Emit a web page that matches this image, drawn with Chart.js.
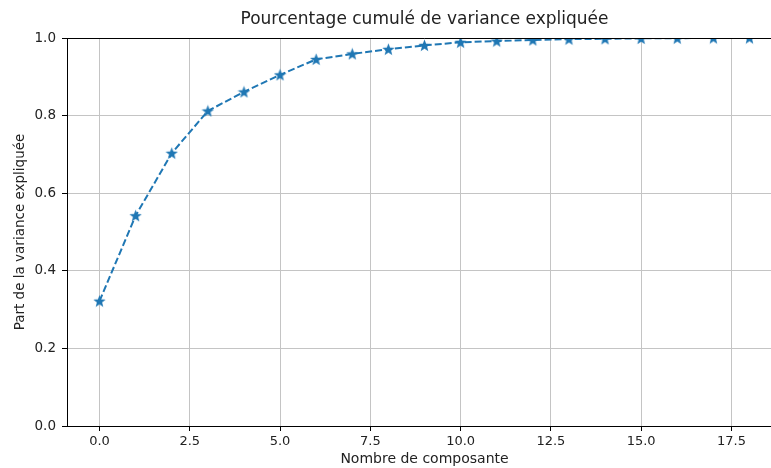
<!DOCTYPE html>
<html>
<head>
<meta charset="utf-8">
<script src="https://cdn.jsdelivr.net/npm/chart.js@4/dist/chart.umd.min.js"></script>
<style>
  html, body { margin: 0; padding: 0; background: #fff; overflow: hidden; }
  #wrap { width: 790px; height: 468px; }
</style>
</head>
<body>
<div id="wrap"><canvas id="varianceChart"></canvas></div>
<script>
// Données
const composantes = [0, 1, 2, 3, 4, 5, 6, 7, 8, 9, 10, 11, 12, 13, 14, 15, 16, 17, 18];
const varianceCumulee = [0.322, 0.542, 0.703, 0.812, 0.861, 0.905, 0.945, 0.959, 0.971, 0.981,
                         0.989, 0.992, 0.995, 0.997, 0.998, 0.999, 0.9995, 1.0, 1.0];
const xTicks = [0, 2.5, 5, 7.5, 10, 12.5, 15, 17.5];
const yTicks = [0, 0.2, 0.4, 0.6, 0.8, 1.0];
const titre = 'Pourcentage cumulé de variance expliquée';

const bleu = '#1f77b4';
const texte = '#222';
const police = "'DejaVu Sans', sans-serif";

// Marqueur étoile pleine (comme le '*' de matplotlib)
function makeStar(size, color) {
    const c = document.createElement('canvas');
    c.width = size; c.height = size;
    const g = c.getContext('2d');
    const cx = size / 2, cy = size / 2 + 0.5, R = size / 2, r = R * 0.42;
    g.beginPath();
    for (let i = 0; i < 10; i++) {
        const a = -Math.PI / 2 + i * Math.PI / 5;
        const rad = i % 2 === 0 ? R : r;
        g.lineTo(cx + rad * Math.cos(a), cy + rad * Math.sin(a));
    }
    g.closePath();
    g.fillStyle = color;
    g.fill();
    return c;
}
const etoile = makeStar(13, bleu);

// Trait du haut du cadre + titre centré sur la zone du graphique (comme matplotlib)
const cadre = {
    id: 'cadre',
    afterDraw(chart) {
        const { ctx, chartArea } = chart;
        ctx.save();
        ctx.strokeStyle = '#000';
        ctx.lineWidth = 1;
        ctx.beginPath();
        ctx.moveTo(chartArea.left, chartArea.top + 0.5);
        ctx.lineTo(chartArea.right, chartArea.top + 0.5);
        ctx.stroke();
        ctx.fillStyle = texte;
        ctx.font = '17px ' + police;
        ctx.textAlign = 'center';
        ctx.textBaseline = 'middle';
        ctx.fillText(titre, (chartArea.left + chartArea.right) / 2, chartArea.top - 18);
        ctx.restore();
    }
};

const ctx = document.getElementById('varianceChart').getContext('2d');
const varianceChart = new Chart(ctx, {
    type: 'line',
    data: {
        datasets: [{
            label: 'Variance cumulée',
            data: composantes.map((c, i) => ({ x: c, y: varianceCumulee[i] })),
            borderColor: bleu,
            borderWidth: 2,
            borderDash: [7, 3],
            pointStyle: etoile,
            pointRadius: 6,
            fill: false,
            tension: 0,
            clip: 0
        }]
    },
    options: {
        responsive: true,
        maintainAspectRatio: false,
        animation: false,
        layout: { padding: { top: 38, left: 0, right: 0, bottom: 0 } },
        plugins: {
            legend: { display: false },
            tooltip: { enabled: false },
            title: { display: false }
        },
        scales: {
            x: {
                type: 'linear',
                min: -0.9,
                max: 18.9,
                afterBuildTicks: s => { s.ticks = xTicks.map(v => ({ value: v })); },
                afterFit: s => { s.height = 42; },
                grid: { color: '#c4c4c4', tickColor: '#000', tickLength: 5 },
                border: { color: '#000', width: 1 },
                ticks: {
                    color: texte,
                    padding: 3,
                    maxRotation: 0,
                    font: { family: police, size: 13 },
                    callback: v => v.toFixed(1)
                },
                title: {
                    display: true,
                    text: 'Nombre de composante',
                    color: texte,
                    font: { family: police, size: 14 },
                    padding: { top: 0, bottom: 0 }
                }
            },
            y: {
                min: 0,
                max: 1,
                afterBuildTicks: s => { s.ticks = yTicks.map(v => ({ value: v })); },
                afterFit: s => { s.width = 67; },
                grid: { color: '#c4c4c4', tickColor: '#000', tickLength: 5 },
                border: { color: '#000', width: 1 },
                ticks: {
                    color: texte,
                    padding: 6,
                    font: { family: police, size: 13.5 },
                    callback: v => v.toFixed(1)
                },
                title: {
                    display: true,
                    text: 'Part de la variance expliquée',
                    color: texte,
                    font: { family: police, size: 13.5 },
                    padding: { top: 12, bottom: 0 }
                }
            }
        }
    },
    plugins: [cadre]
});
</script>
</body>
</html>
